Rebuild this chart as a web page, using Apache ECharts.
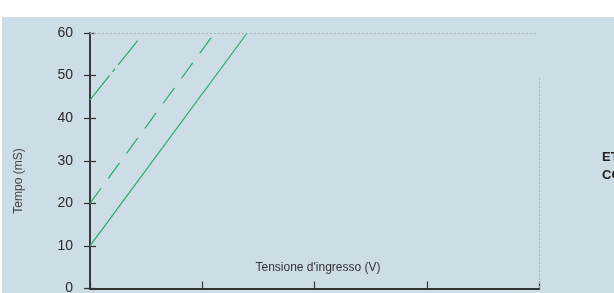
<!DOCTYPE html>
<html>
<head>
<meta charset="utf-8">
<script src="https://cdn.jsdelivr.net/npm/echarts@6/dist/echarts.min.js"></script>
<style>
html,body{margin:0;padding:0;background:#fff;}
#chart{width:614px;height:293px;}
</style>
</head>
<body>
<div id="chart"></div>
<script>
// valori
var xTicks = [0, 100, 200, 300, 400];
var yTicks = [0, 10, 20, 30, 40, 50, 60];
var lineaContinua = [[0, 10], [140, 60]];
var lineaTratteggiata = [[0, 20], [111, 60]];
var lineaTrattoPunto = [[0, 44.3], [44.5, 58.9]];
var guidaOrizz = [[0, 60], [397, 60]];
var guidaVert = [[400, 49.5], [400, 0]];

var verde = '#22ad66';
var fontBase = 'Liberation Sans, Arial, sans-serif';

function showChart(){
	var myChart = echarts.init(document.getElementById('chart'));
	var option = {
		animation: false,
		backgroundColor: 'transparent',
		grid: {left: 90, right: 75, top: 33, bottom: 4.5, containLabel: false, outerBoundsMode: 'none'},
		graphic: [
			{type: 'rect', z: -10, shape: {x: 2, y: 17, width: 612, height: 276}, style: {fill: '#cddde5'}},
			{type: 'text', x: 19, y: 181, rotation: Math.PI / 2, z: 10,
				style: {text: 'Tempo (mS)', fill: '#444', font: '12px ' + fontBase, align: 'center', verticalAlign: 'middle'}},
			{type: 'text', x: 318, y: 268, z: 10,
				style: {text: "Tensione d'ingresso (V)", fill: '#333', font: '12px ' + fontBase, align: 'center', verticalAlign: 'middle'}},
			{type: 'text', x: 602, y: 157, z: 10,
				style: {text: 'ETICHETTA', fill: '#222', font: 'bold 13px ' + fontBase, align: 'left', verticalAlign: 'middle'}},
			{type: 'text', x: 602, y: 175, z: 10,
				style: {text: 'CONFORME', fill: '#222', font: 'bold 13px ' + fontBase, align: 'left', verticalAlign: 'middle'}}
		],
		xAxis: {
			type: 'value', min: xTicks[0], max: xTicks[xTicks.length - 1], interval: 100,
			axisLine: {show: true, onZero: false, lineStyle: {color: '#333', width: 2}},
			axisTick: {show: true, inside: true, length: 7, lineStyle: {color: '#333', width: 1.2}},
			axisLabel: {show: false},
			splitLine: {show: false}
		},
		yAxis: [{
			type: 'value', min: yTicks[0], max: yTicks[yTicks.length - 1], interval: 10,
			axisLine: {show: true, lineStyle: {color: '#3a3a3a', width: 2}},
			axisTick: {show: true, length: 6, lineStyle: {color: '#333', width: 1.2}},
			axisLabel: {color: '#2a2a2a', fontSize: 14, fontFamily: fontBase, margin: 17},
			splitLine: {show: false}
		}, {
			type: 'value', position: 'left', min: yTicks[0], max: yTicks[yTicks.length - 1], interval: 10,
			axisLine: {show: false},
			axisTick: {show: true, inside: true, length: 6, lineStyle: {color: '#333', width: 1.2}},
			axisLabel: {show: false},
			splitLine: {show: false}
		}],
		series: [{
			type: 'line', data: lineaContinua, symbol: 'none',
			lineStyle: {color: verde, width: 1.2, type: 'solid'},
			markLine: {
				silent: true, symbol: 'none', label: {show: false},
				lineStyle: {color: '#a9b5bd', width: 1, type: [2, 2]},
				data: [
					[{coord: guidaOrizz[0]}, {coord: guidaOrizz[1]}],
					[{coord: guidaVert[0]}, {coord: guidaVert[1]}]
				]
			}
		}, {
			type: 'line', data: lineaTratteggiata, symbol: 'none',
			lineStyle: {color: verde, width: 1.2, type: [19, 12]}
		}, {
			type: 'line', data: lineaTrattoPunto, symbol: 'none',
			lineStyle: {color: verde, width: 1.2, type: [31, 5, 4, 5]}
		}]
	};
	myChart.setOption(option);
}
showChart();
</script>
</body>
</html>
